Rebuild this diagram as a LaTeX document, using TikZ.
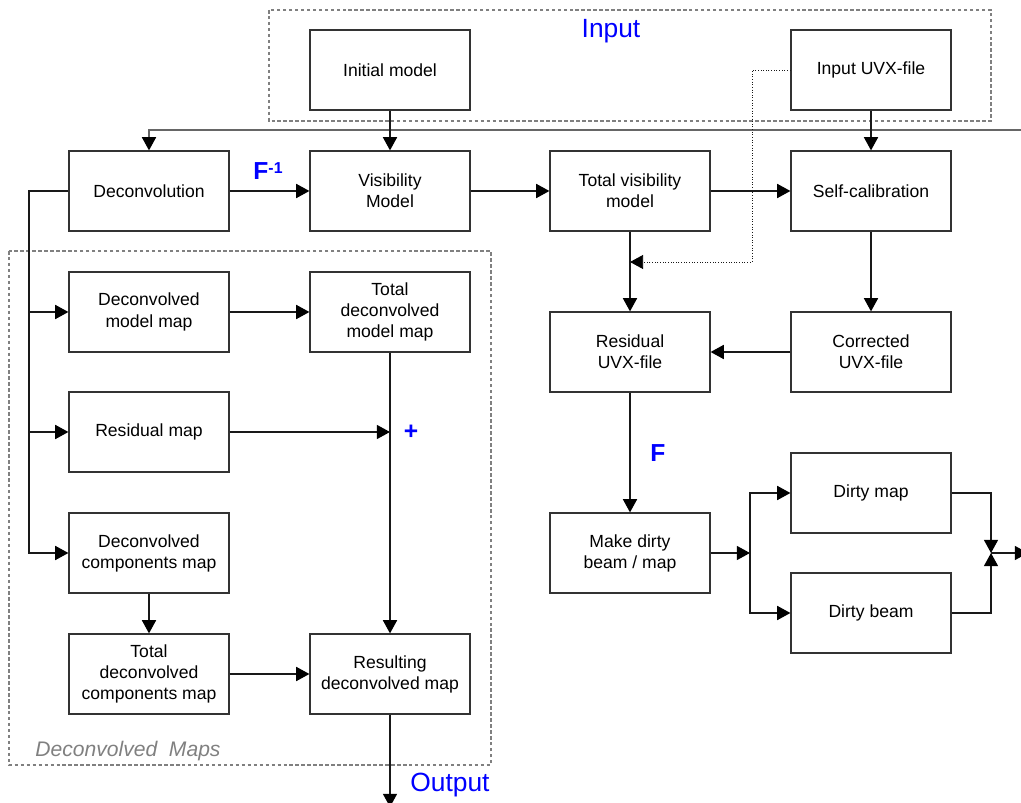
\documentclass[tikz,border=0pt]{standalone}
\usepackage{fontspec}
\setmainfont{Liberation Sans}
\usetikzlibrary{
	arrows,arrows.meta,
	positioning
}

\begin{document}
\begin{tikzpicture}
[x=0.02cm,y=-0.02cm,
block/.style={rectangle,draw=black!80,line width=0.7pt,minimum width=3.2cm,minimum height=1.6cm,align=center,inner sep=2pt,font=\fontsize{10}{12}\selectfont},
group/.style={draw=black!50,line width=0.6pt,dash pattern=on 2pt off 1.4pt},
link/.style={-{Triangle[length=7.5pt,width=8pt,color=black]},line width=0.8pt,draw=black!90},
tag/.style={text=blue,font=\fontsize{15}{18}\selectfont},
sign/.style={text=blue,font=\bfseries\fontsize{14}{16}\selectfont}]
\useasboundingbox (0,0) rectangle (1021,803);
% dashed groups
\draw[group] (269,10) rectangle (991,121);
\draw[group] (9,251) rectangle (491,765);
\node (inlabel) at (611,31) [tag] {Input};
\node (outlabel) at (450,785) [tag] {Output};
\node (grplabel) at (128,751) [text=black!50,font=\itshape\fontsize{12}{14}\selectfont] {Deconvolved\ \ Maps};
% blocks
\node (init) at (390,70) [block] {Initial model};
\node (inuvx) at (871,70) [block] {Input UVX-file};
\node (deconv) at (149,191) [block] {Deconvolution};
\node (vismod) at (390,191) [block] {Visibility\\Model};
\node (totvis) at (630,191) [block] {Total visibility\\model};
\node (selfcal) at (871,191) [block] {Self-calibration};
\node (dmodel) at (149,312) [block] {Deconvolved\\model map};
\node (tdmodel) at (390,312) [block] {Total\\deconvolved\\model map};
\node (resuvx) at (630,352) [block] {Residual\\UVX-file};
\node (coruvx) at (871,352) [block] {Corrected\\UVX-file};
\node (resmap) at (149,432) [block] {Residual map};
\node (dcomp) at (149,553) [block] {Deconvolved\\components map};
\node (mkdirty) at (630,553) [block] {Make dirty\\beam / map};
\node (dmap) at (871,493) [block] {Dirty map};
\node (dbeam) at (871,613) [block] {Dirty beam};
\node (tdcomp) at (149,674) [block] {Total\\deconvolved\\components map};
\node (result) at (390,674) [block] {Resulting\\deconvolved map};
% operators
\node (finv) at (268,171) [sign] {F\raisebox{0.45ex}{\fontsize{9}{10}\selectfont -1}};
\node (fwd) at (658,453) [sign] {F};
\node (plus) at (411,432) [sign] {+};
% helper points
\coordinate (fbin) at (1030,130);
\coordinate (bend) at (752,262);
\coordinate (tap) at (630,262);
\coordinate (busend) at (29,553);
\coordinate (sum) at (390,432);
\coordinate (split) at (750,553);
\coordinate (join) at (991,553);
\coordinate (dirtyout) at (1028,553);
\coordinate (outpt) at (390,807);
% connectors
\draw[link,draw=black!60] (fbin) -| (deconv);
\draw[link] (init) -- (vismod);
\draw[link] (inuvx) -- (selfcal);
\draw[link,line width=0.5pt,densely dotted] (inuvx.west) -| (bend) -- (tap);
\draw[link] (deconv) -- (vismod);
\draw[link] (vismod) -- (totvis);
\draw[link] (totvis) -- (selfcal);
\draw[link] (totvis) -- (resuvx);
\draw[link] (selfcal) -- (coruvx);
\draw[link] (coruvx) -- (resuvx);
\draw[link] (resuvx) -- (mkdirty);
\draw[link] (mkdirty) -- (split);
\draw[link] (split) |- (dmap);
\draw[link] (split) |- (dbeam);
\draw[link] (dmap) -| (join);
\draw[link] (dbeam) -| (join);
\draw[link] (join) -- (dirtyout);
\draw[link] (deconv.west) -| (busend) -- (dcomp);
\draw[link] (dmodel -| busend) -- (dmodel);
\draw[link] (resmap -| busend) -- (resmap);
\draw[link] (dmodel) -- (tdmodel);
\draw[link] (resmap) -- (sum);
\draw[link] (tdmodel) -- (result);
\draw[link] (dcomp) -- (tdcomp);
\draw[link] (tdcomp) -- (result);
\draw[link] (result) -- (outpt);
\end{tikzpicture}
\end{document}
